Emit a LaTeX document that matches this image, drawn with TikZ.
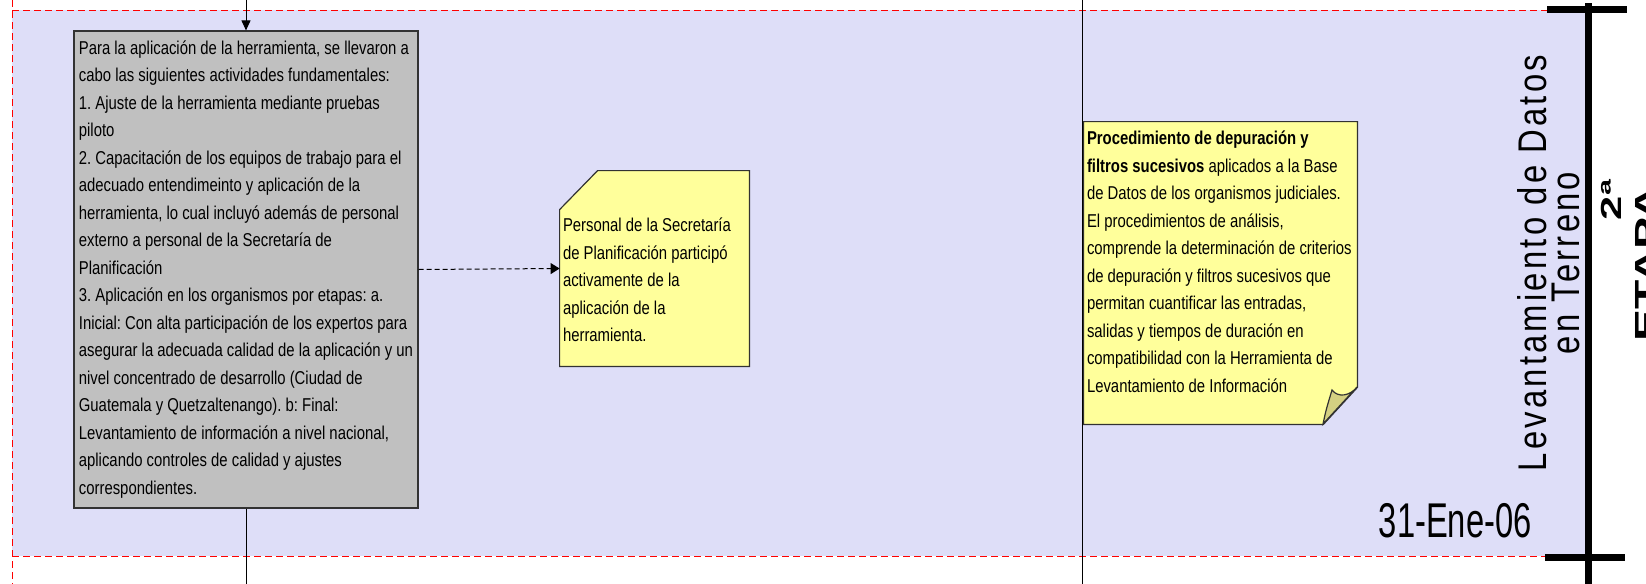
\documentclass[tikz,border=0pt]{standalone}
\usepackage{fontspec}
\setmainfont{Liberation Sans}[FakeStretch=0.8]
\newfontfamily\lanefont{Liberation Sans}[FakeStretch=0.82,LetterSpace=8]
\newfontfamily\datefont{Liberation Sans}[FakeStretch=0.67]
\newfontfamily\stagefont{Liberation Sans}[FakeStretch=1.5]
\usepackage{tikz}
\usetikzlibrary{arrows.meta}
\usetikzlibrary{calc}
\definecolor{lanebg}{RGB}{222,222,248}
\definecolor{boxgray}{RGB}{192,192,192}
\definecolor{boxline}{RGB}{50,50,50}
\definecolor{noteyellow}{RGB}{255,255,155}
\definecolor{notefold}{RGB}{212,208,130}
\frenchspacing

\begin{document}
\begin{tikzpicture}[x=0.5pt,y=-0.5pt,
    txt/.style={font=\fontsize{9.3pt}{13.75pt}\selectfont,align=left,inner sep=0pt},
    actbox/.style={txt,draw=boxline,fill=boxgray,line width=0.6pt,minimum width=172pt,minimum height=238.5pt},
    notebox/.style={draw=boxline,fill=noteyellow,line width=0.6pt},
    flow/.style={-{Triangle[length=5pt,width=4.5pt]},line width=0.5pt},
    pagedash/.style={red,line width=0.5pt,dash pattern=on 3.5pt off 2pt}]
    \useasboundingbox (0,0) rectangle (1646,584);

    % 背景泳道
    \fill[lanebg] (12,10) rectangle (1588,556);
    \draw[pagedash] (12,10) -- (1547,10);
    \draw[pagedash] (12,556) -- (1547,556);
    \draw[pagedash] (12,0) -- (12,584);

    \coordinate (divA) at (1082,0);
    \coordinate (divB) at (1082,584);
    \draw[line width=0.5pt] (divA) -- (divB);

    % 文本框
    \node[actbox] (actividades) at (246,269.5) {Para la aplicación de la herramienta, se llevaron a\\
cabo las siguientes actividades fundamentales:\\
1. Ajuste de la herramienta mediante pruebas\\
piloto\\
2. Capacitación de los equipos de trabajo para el\\
adecuado entendimeinto y aplicación de la\\
herramienta, lo cual incluyó además de personal\\
externo a personal de la Secretaría de\\
Planificación\\
3. Aplicación en los organismos por etapas: a.\\
Inicial: Con alta participación de los expertos para\\
asegurar la adecuada calidad de la aplicación y un\\
nivel concentrado de desarrollo (Ciudad de\\
Guatemala y Quetzaltenango). b: Final:\\
Levantamiento de información a nivel nacional,\\
aplicando controles de calidad y ajustes\\
correspondientes.};

    \node[minimum width=94.5pt,minimum height=97.5pt,inner sep=0pt] (personal) at (654.5,268.5) {};
    \draw[notebox] ($(personal.north west)+(0,39)$) -- ($(personal.north west)+(38,0)$)
        -- (personal.north east) -- (personal.south east) -- (personal.south west) -- cycle;
    \node[txt,anchor=north west] (personaltxt) at ($(personal.north west)+(3,47)$) {Personal de la Secretaría\\
de Planificación participó\\
activamente de la\\
aplicación de la\\
herramienta.};

    \node[minimum width=136.5pt,minimum height=151pt,inner sep=0pt] (depuracion) at (1220.5,273) {};
    \draw[notebox] (depuracion.north west) -- (depuracion.north east) -- ($(depuracion.south east)+(0,-37)$)
        -- ($(depuracion.south east)+(-34,0)$) -- (depuracion.south west) -- cycle;
    \draw[fill=notefold,line width=0.6pt,draw=boxline] (1323,424) .. controls (1326,410) .. (1332,390)
        .. controls (1338,398) and (1350,396) .. (1357,387) -- cycle;
    \node[txt,anchor=north west] (depuraciontxt) at ($(depuracion.north west)+(3,9)$) {\textbf{Procedimiento de depuración y}\\
\textbf{filtros sucesivos} aplicados a la Base\\
de Datos de los organismos judiciales.\\
El procedimientos de análisis,\\
comprende la determinación de criterios\\
de depuración y filtros sucesivos que\\
permitan cuantificar las entradas,\\
salidas y tiempos de duración en\\
compatibilidad con la Herramienta de\\
Levantamiento de Información};

    % 连线
    \coordinate (entrada) at (246,0);
    \coordinate (salida) at (246,584);
    \draw[flow] (entrada) -- (actividades.north);
    \draw[line width=0.5pt] (actividades.south) -- (salida);
    \draw[-{Triangle[length=4.5pt,width=5.5pt]},line width=0.5pt,dash pattern=on 2.5pt off 1.5pt] (actividades.east) -- (personal.west);

    % 标签
    \node[rotate=90,align=center,inner sep=0pt,font=\lanefont\fontsize{20pt}{16.5pt}\selectfont] (lane) at (1549,263) {Levantamiento de Datos\\en Terreno};
    \node[anchor=base east,inner sep=0pt,font=\datefont\fontsize{24.4pt}{29pt}\selectfont] (fecha) at (1532,537) {31-Ene-06};

    \draw[line width=3.5pt] (1588,3) -- (1588,584);
    \draw[line width=3.5pt] (1547,9.5) -- (1627,9.5);
    \draw[line width=3.5pt] (1545,557) -- (1625,557);

    \node[rotate=90,inner sep=0pt,font=\stagefont\bfseries\fontsize{14.5pt}{17pt}\selectfont] (etapa) at (1611,200) {2ª};
    \node[rotate=90,anchor=north west,inner sep=0pt,font=\stagefont\bfseries\fontsize{16pt}{19pt}\selectfont] (etapanombre) at (1635,342) {ETAPA};
\end{tikzpicture}
\end{document}
